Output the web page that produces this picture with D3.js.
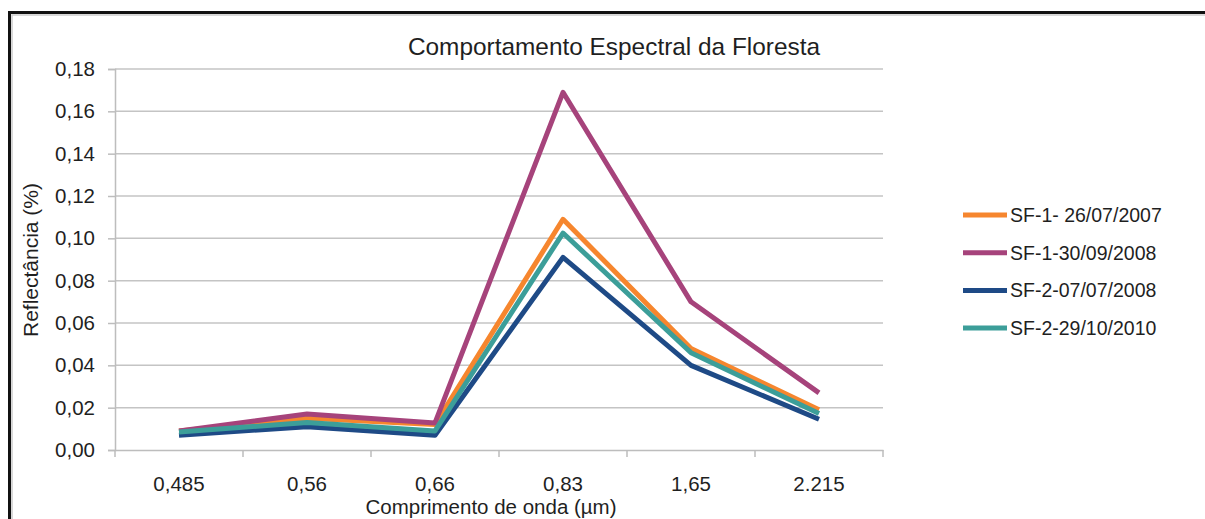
<!DOCTYPE html>
<html>
<head>
<meta charset="utf-8">
<script src="https://cdn.jsdelivr.net/npm/d3@7"></script>
<style>
  body { margin: 0; background: #fff; }
  svg { display: block; font-family: "Liberation Sans", Arial, sans-serif; }
  .axis text { fill: #1f1f1f; }
</style>
</head>
<body>
<svg width="1205" height="519"></svg>
<script>
// comprimento de onda (categorias)
var categories = ['0,485', '0,56', '0,66', '0,83', '1,65', '2.215'];
var seriesNames = ['SF-1- 26/07/2007', 'SF-1-30/09/2008', 'SF-2-07/07/2008', 'SF-2-29/10/2010'];
var sf1_2007 = [0.009, 0.015, 0.012, 0.109, 0.048, 0.019];
var sf1_2008 = [0.009, 0.017, 0.0128, 0.169, 0.070, 0.027];
var sf2_2008 = [0.007, 0.011, 0.007, 0.091, 0.040, 0.0145];
var sf2_2010 = [0.0085, 0.013, 0.009, 0.1025, 0.046, 0.0172];
var yTicks = [0, 0.02, 0.04, 0.06, 0.08, 0.10, 0.12, 0.14, 0.16, 0.18];
var colors = ['#F6862E', '#A6437B', '#1E4A86', '#3C9E99'];

var allSeries = [sf1_2007, sf1_2008, sf2_2008, sf2_2010];

var margin = {top: 69, left: 115, right: 322, bottom: 69},
    width = 1205, height = 519;

var svg = d3.select('svg');

// moldura
svg.append('path')
    .attr('d', 'M9.5,' + height + ' V12.5 H' + width)
    .attr('fill', 'none')
    .attr('stroke', '#111')
    .attr('stroke-width', 3);
svg.append('path')
    .attr('d', 'M12,' + height + ' V15 H' + width)
    .attr('fill', 'none')
    .attr('stroke', '#ccc')
    .attr('stroke-width', 1.5);

var x = d3.scaleBand()
    .domain(categories)
    .range([margin.left, width - margin.right])
    .padding(0);

var y = d3.scaleLinear()
    .domain([0, 0.18])
    .range([height - margin.bottom, margin.top]);

var fmt = function(d) { return d3.format('.2f')(d).replace('.', ','); };

// grelha
svg.append('g')
    .selectAll('line')
    .data(yTicks.slice(1))
    .join('line')
    .attr('x1', margin.left)
    .attr('x2', width - margin.right)
    .attr('y1', d => y(d))
    .attr('y2', d => y(d))
    .attr('stroke', '#c4c4c4')
    .attr('stroke-width', 1.5);

// eixo y
var gy = svg.append('g')
    .attr('class', 'axis')
    .attr('transform', 'translate(' + margin.left + ',0)')
    .call(d3.axisLeft(y).tickValues(yTicks).tickFormat(fmt).tickSize(7).tickPadding(13));
gy.select('.domain').attr('stroke', '#bdbdbd').attr('stroke-width', 1.5);
gy.selectAll('.tick line').attr('stroke', '#bdbdbd').attr('stroke-width', 1.5);
gy.selectAll('text').attr('font-size', 20.5);

// eixo x
var gx = svg.append('g')
    .attr('class', 'axis')
    .attr('transform', 'translate(0,' + y(0) + ')')
    .call(d3.axisBottom(x).tickSize(0).tickPadding(26));
gx.select('.domain').attr('stroke', '#bdbdbd').attr('stroke-width', 1.5);
gx.selectAll('text').attr('font-size', 20.5);
var bounds = categories.map(c => x(c)).concat([x(categories[categories.length - 1]) + x.bandwidth()]);
gx.selectAll('line.sep')
    .data(bounds)
    .join('line')
    .attr('class', 'sep')
    .attr('x1', d => d)
    .attr('x2', d => d)
    .attr('y1', 0)
    .attr('y2', 7)
    .attr('stroke', '#bdbdbd')
    .attr('stroke-width', 1.5);

// linhas
var line = d3.line()
    .x((d, i) => x(categories[i]) + x.bandwidth() / 2)
    .y(d => y(d));

svg.append('g')
    .selectAll('path')
    .data(allSeries)
    .join('path')
    .attr('d', line)
    .attr('fill', 'none')
    .attr('stroke', (d, i) => colors[i])
    .attr('stroke-width', 5)
    .attr('stroke-linejoin', 'round');

// títulos
svg.append('text')
    .attr('x', 614)
    .attr('y', 55)
    .attr('text-anchor', 'middle')
    .attr('font-size', 24.4)
    .attr('fill', '#1f1f1f')
    .text('Comportamento Espectral da Floresta');

svg.append('text')
    .attr('x', 491)
    .attr('y', 514)
    .attr('text-anchor', 'middle')
    .attr('font-size', 20.5)
    .attr('fill', '#1f1f1f')
    .text('Comprimento de onda (µm)');

svg.append('text')
    .attr('transform', 'translate(38,260) rotate(-90)')
    .attr('text-anchor', 'middle')
    .attr('font-size', 21)
    .attr('fill', '#1f1f1f')
    .text('Reflectância (%)');

// legenda
var leg = svg.append('g')
    .selectAll('g')
    .data(seriesNames)
    .join('g')
    .attr('transform', (d, i) => 'translate(963,' + (215 + i * 37.7) + ')');
leg.append('line')
    .attr('x1', 0).attr('x2', 44)
    .attr('stroke', (d, i) => colors[i])
    .attr('stroke-width', 5);
leg.append('text')
    .attr('x', 47)
    .attr('y', 7)
    .attr('font-size', 19.5)
    .attr('fill', '#1f1f1f')
    .text(d => d);
</script>
</body>
</html>
